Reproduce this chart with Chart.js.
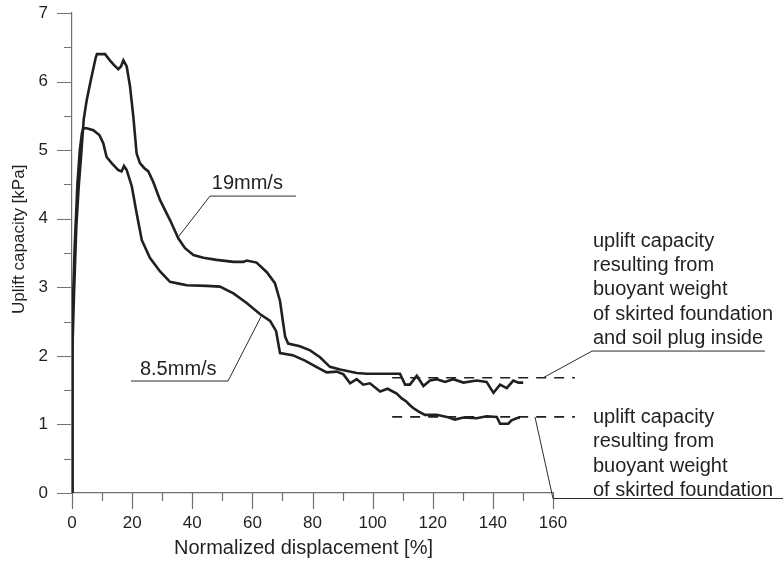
<!DOCTYPE html>
<html>
<head>
<meta charset="utf-8">
<script src="https://cdn.jsdelivr.net/npm/chart.js@4.4.1/dist/chart.umd.min.js"></script>
<style>
  html, body { margin: 0; padding: 0; background: #ffffff; }
  #wrap { width: 783px; height: 561px; }
</style>
</head>
<body>
<div id="wrap"><canvas id="c" width="783" height="561"></canvas></div>
<script>
// Pull-out test: uplift capacity vs normalized displacement at two pull-out rates.

// 19 mm/s
const dispFast = [0, 0.1, 0.67, 1.43, 2.2, 3.0, 3.9, 4.9, 6.5, 7.9, 8.3, 11.0, 12.6, 14.0, 15.4, 16.3, 17.1, 18.2,
  19.3, 20.4, 21.5, 22.6, 24.0, 25.4, 27.0, 29.3, 32.6, 35.4, 37.6, 40.4, 43.7, 48.1, 53.7, 57.0, 58.1, 61.4,
  64.8, 67.5, 69.2, 70.1, 70.9, 71.9, 75.8, 79.2, 82.5, 85.8, 89.2, 94.7, 98.0, 109.1, 110.8, 112.4, 114.7,
  116.9, 119.1, 121.3, 124.1, 126.8, 130.2, 134.6, 137.9, 140.2, 142.4, 144.6, 146.8, 148.5, 150.1];
const capFast = [0, 2.04, 2.91, 3.88, 4.45, 4.9, 5.45, 5.73, 6.07, 6.35, 6.40, 6.40, 6.31, 6.24, 6.18, 6.22, 6.31, 6.22,
  5.93, 5.49, 4.95, 4.81, 4.74, 4.69, 4.54, 4.27, 3.98, 3.71, 3.57, 3.47, 3.43, 3.40, 3.37, 3.37, 3.39, 3.36,
  3.22, 3.06, 2.80, 2.52, 2.28, 2.18, 2.14, 2.08, 1.98, 1.84, 1.80, 1.75, 1.74, 1.74, 1.58, 1.58, 1.71,
  1.56, 1.64, 1.66, 1.62, 1.66, 1.61, 1.64, 1.62, 1.46, 1.58, 1.53, 1.64, 1.61, 1.61];

// 8.5 mm/s
const dispSlow = [0, 0.05, 0.3, 0.9, 1.8, 2.6, 3.3, 3.8, 4.9, 7.1, 9.1, 10.4, 11.5, 13.2, 15.4, 16.5, 17.3, 18.2,
  19.9, 21.5, 23.2, 25.9, 29.3, 32.6, 35.9, 38.2, 44.8, 49.2, 53.7, 58.1, 62.5, 65.9, 67.9, 69.2, 73.4, 77.5,
  80.8, 84.7, 88.1, 90.3, 92.5, 94.7, 96.9, 99.1, 102.5, 105.0, 108.0, 109.7, 111.3, 112.4, 113.5, 115.2,
  117.4, 121.3, 124.7, 127.4, 130.2, 134.6, 137.9, 141.3, 142.4, 145.1, 146.2, 147.9, 149.0];
const capSlow = [0, 1.5, 2.6, 3.6, 4.5, 5.0, 5.25, 5.32, 5.32, 5.29, 5.22, 5.10, 4.90, 4.81, 4.71, 4.69, 4.77, 4.71,
  4.47, 4.08, 3.69, 3.43, 3.23, 3.08, 3.05, 3.03, 3.02, 3.01, 2.91, 2.77, 2.61, 2.51, 2.36, 2.04, 2.01, 1.93,
  1.85, 1.76, 1.77, 1.73, 1.60, 1.66, 1.58, 1.60, 1.48, 1.52, 1.45, 1.38, 1.33, 1.28, 1.24, 1.19,
  1.14, 1.14, 1.11, 1.07, 1.10, 1.09, 1.12, 1.11, 1.01, 1.01, 1.06, 1.09, 1.10];

// Reference levels from buoyant weight [kPa] and the span of their dashed lines [%]
const buoyantWithPlug = 1.68;
const buoyantFoundation = 1.11;
const refSpan = [106.5, 167.3];

// Axis ticks
const xTickValues = [0, 20, 40, 60, 80, 100, 120, 140, 160];
const yTickValues = [0, 1, 2, 3, 4, 5, 6, 7];

const seriesLabels = ['19mm/s', '8.5mm/s'];
const noteWithPlug = ['uplift capacity', 'resulting from', 'buoyant weight', 'of skirted foundation', 'and soil plug inside'];
const noteFoundation = ['uplift capacity', 'resulting from', 'buoyant weight', 'of skirted foundation'];

const FONT = "'Liberation Sans', Arial, Helvetica, sans-serif";
const INK = '#231f20';
const AXIS = '#707070';

const toPoints = (xs, ys) => xs.map((x, i) => ({ x: x, y: ys[i] }));
const levelLine = (v) => refSpan.map(x => ({ x: x, y: v }));

// Minor/major tick marks on both axes
const tickMarks = {
  id: 'tickMarks',
  beforeDatasetsDraw(chart) {
    const { ctx, scales: { x, y } } = chart;
    ctx.save();
    ctx.strokeStyle = AXIS;
    ctx.lineWidth = 1.2;
    ctx.beginPath();
    for (let v = 0; v <= 160; v += 10) {
      const px = Math.round(x.getPixelForValue(v)) + 0.5;
      const len = xTickValues.includes(v) ? 16 : 8;
      ctx.moveTo(px, x.top);
      ctx.lineTo(px, x.top + len);
    }
    for (let k = 0; k <= 14; k++) {
      const v = k / 2;
      const py = Math.round(y.getPixelForValue(v)) + 0.5;
      const len = yTickValues.includes(v) ? 15 : 8;
      ctx.moveTo(y.right, py);
      ctx.lineTo(y.right - len, py);
    }
    ctx.stroke();
    ctx.restore();
  }
};

// Axis titles, series labels and the notes on the reference levels
const notes = {
  id: 'notes',
  afterDatasetsDraw(chart) {
    const { ctx, chartArea, scales: { x, y } } = chart;
    const X = v => x.getPixelForValue(v);
    const Y = v => y.getPixelForValue(v);
    ctx.save();

    // axis titles
    ctx.fillStyle = INK;
    ctx.font = '20px ' + FONT;
    ctx.textAlign = 'center';
    ctx.textBaseline = 'alphabetic';
    ctx.fillText('Normalized displacement [%]', X(77), chartArea.bottom + 61);
    ctx.save();
    ctx.translate(24, Y(3.7));
    ctx.rotate(-Math.PI / 2);
    ctx.font = '17px ' + FONT;
    ctx.fillText('Uplift capacity [kPa]', 0, 0);
    ctx.restore();

    // leader lines
    ctx.strokeStyle = '#2b2b2b';
    ctx.lineWidth = 1;
    const leader = (pts) => {
      ctx.beginPath();
      pts.forEach((p, i) => (i ? ctx.lineTo(X(p[0]), Y(p[1])) : ctx.moveTo(X(p[0]), Y(p[1]))));
      ctx.stroke();
    };
    leader([[35.3, 3.73], [45.9, 4.33], [74.5, 4.33]]);
    leader([[63.2, 2.60], [51.9, 1.633], [19.6, 1.633]]);
    leader([[156.7, buoyantWithPlug], [173.0, 2.07], [230.5, 2.07]]);
    leader([[154.0, buoyantFoundation], [160.0, -0.08], [238, -0.08]]);

    // text
    ctx.font = '20px ' + FONT;
    ctx.textAlign = 'left';
    ctx.textBaseline = 'alphabetic';
    ctx.fillText(seriesLabels[0], X(46.5), Y(4.43));
    ctx.fillText(seriesLabels[1], X(22.6), Y(1.72));
    const step = 24.3;
    noteWithPlug.forEach((t, i) => ctx.fillText(t, X(173.3), Y(3.59) + i * step));
    noteFoundation.forEach((t, i) => ctx.fillText(t, X(173.3), Y(1.02) + i * step));
    ctx.restore();
  }
};

new Chart(document.getElementById('c'), {
  type: 'line',
  data: {
    datasets: [
      { label: seriesLabels[0], data: toPoints(dispFast, capFast), borderColor: INK, borderWidth: 2.6, tension: 0, pointRadius: 0, fill: false },
      { label: seriesLabels[1], data: toPoints(dispSlow, capSlow), borderColor: INK, borderWidth: 2.6, tension: 0, pointRadius: 0, fill: false },
      { label: 'with soil plug', data: levelLine(buoyantWithPlug), borderColor: INK, borderWidth: 1.6, borderDash: [10, 8], tension: 0, pointRadius: 0, fill: false, clip: false },
      { label: 'foundation only', data: levelLine(buoyantFoundation), borderColor: INK, borderWidth: 1.6, borderDash: [10, 8], tension: 0, pointRadius: 0, fill: false, clip: false }
    ]
  },
  options: {
    responsive: false,
    animation: false,
    devicePixelRatio: 1,
    layout: { padding: { left: 0, right: 230, top: 13, bottom: 0 } },
    plugins: { legend: { display: false }, tooltip: { enabled: false } },
    scales: {
      x: {
        type: 'linear', min: 0, max: 160,
        afterBuildTicks: s => { s.ticks = xTickValues.map(v => ({ value: v })); },
        afterFit: s => { s.height = 68; s.paddingLeft = 0; s.paddingRight = 0; },
        grid: { display: false, drawTicks: false },
        border: { display: true, color: AXIS, width: 1.2 },
        ticks: { color: INK, font: { family: FONT, size: 17 }, padding: 20, maxRotation: 0 }
      },
      y: {
        type: 'linear', min: 0, max: 7,
        afterBuildTicks: s => { s.ticks = yTickValues.map(v => ({ value: v })); },
        afterFit: s => { s.width = 72; s.paddingTop = 0; s.paddingBottom = 0; },
        grid: { display: false, drawTicks: false },
        border: { display: true, color: AXIS, width: 1.2 },
        ticks: { color: INK, font: { family: FONT, size: 17 }, padding: 24 }
      }
    }
  },
  plugins: [tickMarks, notes]
});
</script>
</body>
</html>
